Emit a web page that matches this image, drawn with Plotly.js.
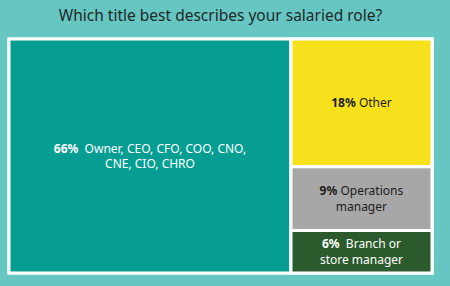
<!DOCTYPE html>
<html>
<head>
<meta charset="utf-8">
<script src="https://cdn.plot.ly/plotly-3.0.1.min.js"></script>
<style>html,body{margin:0;padding:0;background:#66c6c2;}#chart{width:450px;height:286px;}</style>
</head>
<body>
<div id="chart"></div>
<script>
// Data
const ids = ["root", "owner", "rest", "other", "ops", "branch"];
const parents = ["", "root", "root", "rest", "rest", "rest"];
const labels = ["", "Owner, CEO, CFO, COO, CNO,<br>CNE, CIO, CHRO", "", "Other", "Operations<br>manager", "Branch or<br>store manager"];
const percents = [99, 66, 33, 18, 9, 6];
const tileColors = ["#ffffff", "#069e93", "#ffffff", "#f6e11c", "#a7a7a7", "#2b5a2c"];
const textColors = ["#ffffff", "#ffffff", "#ffffff", "#1d1d1d", "#1d1d1d", "#ffffff"];

const templates = ids.map((id, i) => {
  if (parents[i] === "" || id === "rest") return "";
  if (id === "branch" || id === "owner") return "<b>%{value}%</b>  %{label}";
  return "<b>%{value}%</b> %{label}";
});

const trace = {
  type: "treemap",
  ids: ids,
  parents: parents,
  labels: labels,
  values: percents,
  branchvalues: "total",
  sort: false,
  texttemplate: templates,
  hoverinfo: "skip",
  textposition: "middle center",
  textfont: {family: "Noto Sans, sans-serif", size: 12, color: textColors},
  insidetextfont: {family: "Noto Sans, sans-serif", size: 12, color: textColors},
  marker: {
    colors: tileColors,
    line: {color: "#ffffff", width: 3},
    pad: {t: 0, l: 0, r: 0, b: 0}
  },
  tiling: {packing: "slice-dice", pad: 0},
  pathbar: {visible: false},
  root: {color: "#ffffff"}
};

const layout = {
  width: 450,
  height: 286,
  paper_bgcolor: "#66c6c2",
  margin: {l: 9, r: 18, t: 39, b: 13},
  title: {
    text: "Which title best describes your salaried role?",
    font: {family: "Noto Sans, sans-serif", size: 15.5, color: "#1f2a2a"},
    x: 0.49, xanchor: "center", y: 0.945, yanchor: "middle"
  },
  showlegend: false
};

Plotly.newPlot("chart", [trace], layout, {displayModeBar: false, staticPlot: true});
</script>
</body>
</html>
